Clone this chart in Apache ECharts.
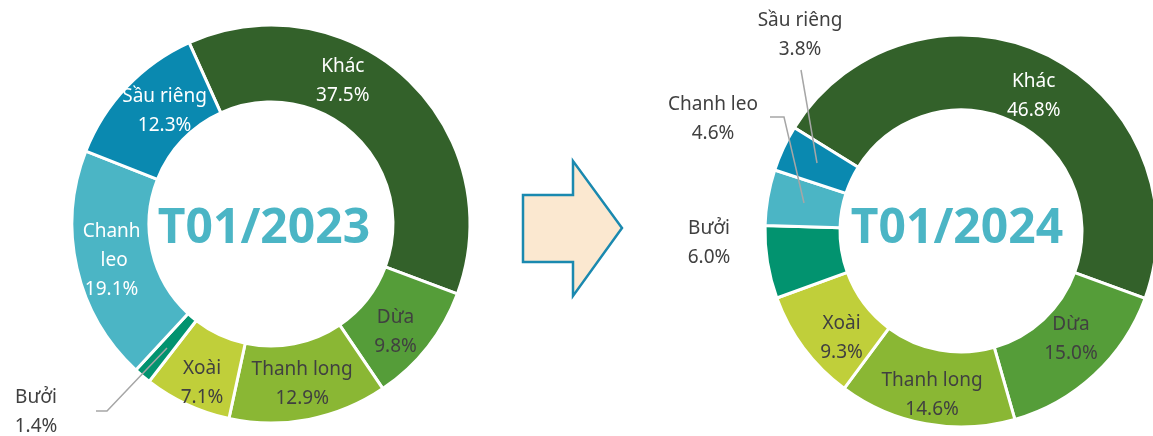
<!DOCTYPE html>
<html>
<head>
<meta charset="utf-8">
<script src="https://cdn.jsdelivr.net/npm/echarts@6/dist/echarts.min.js"></script>
<style>
  html, body { margin: 0; background: #fff; }
  #chart { width: 1153px; height: 436px; }
</style>
</head>
<body>
<div id="chart"></div>
<script>
'use strict';

// data
const categories = ['Khác', 'Dừa', 'Thanh long', 'Xoài', 'Bưởi', 'Chanh leo', 'Sầu riêng'];
const share2023 = [37.5, 9.8, 12.9, 7.1, 1.4, 19.1, 12.3];
const share2024 = [46.8, 15.0, 14.6, 9.3, 6.0, 4.6, 3.8];
const periods = ['T01/2023', 'T01/2024'];

const colors = ['#33612A', '#559D39', '#8AB734', '#C0CF3A', '#02936F', '#4BB5C5', '#0A89B0'];
const whiteText = ['Khác', 'Chanh leo', 'Sầu riêng'];
const font = '"Noto Sans", "DejaVu Sans", sans-serif';

// labels that sit outside the ring (per series)
const outside = [['Bưởi'], ['Bưởi', 'Chanh leo', 'Sầu riêng']];
const labelSpots = {
    '0-Bưởi': { x: 36, y: 412 },
    '1-Sầu riêng': { x: 800, y: 35 },
    '1-Chanh leo': { x: 713, y: 119 },
    '1-Bưởi': { x: 709, y: 243 }
};
// leader lines, drawn like the excel callouts
const leaderLines = [
    [[96, 411], [107, 411], [167, 348]],
    [[801, 70], [817, 163]],
    [[770, 117], [784, 117], [804, 203]]
];
// small shifts of the inside labels
const labelNudges = {
    '0-Khác': { dx: -40, dy: -24 },
    '0-Sầu riêng': { dx: 12, dy: 0 },
    '0-Dừa': { dx: -4, dy: 7 },
    '0-Xoài': { dx: 0, dy: 11 },
    '1-Khác': { dx: 2, dy: 10 },
    '1-Dừa': { dx: 0, dy: -10 },
    '1-Thanh long': { dx: 0, dy: 5 },
    '1-Xoài': { dx: 10, dy: 11 }
};

function buildData(values, idx) {
    return categories.map(function (name, i) {
        const isOut = outside[idx].indexOf(name) >= 0;
        const item = {
            name: name,
            value: values[i],
            itemStyle: { color: colors[i] },
            label: {
                position: isOut ? 'outside' : 'inside',
                color: (!isOut && whiteText.indexOf(name) >= 0) ? '#ffffff' : '#404040'
            }
        };
        if (idx === 0 && name === 'Chanh leo') {
            item.label.width = 62;
            item.label.overflow = 'break';
        }
        return item;
    });
}

function makeSeries(values, idx, center, radius, startAngle) {
    return {
        type: 'pie',
        center: center,
        radius: radius,
        startAngle: startAngle,
        clockwise: true,
        avoidLabelOverlap: false,
        itemStyle: { borderColor: '#ffffff', borderWidth: 3 },
        label: {
            show: true,
            fontFamily: font,
            fontSize: 19,
            lineHeight: 29,
            align: 'center',
            formatter: function (p) {
                return p.name + '\n' + p.value.toFixed(1) + '%';
            }
        },
        labelLine: { show: false },
        labelLayout: function (params) {
            const key = idx + '-' + categories[params.dataIndex];
            const spot = labelSpots[key];
            if (spot) {
                return { x: spot.x, y: spot.y, align: 'center', verticalAlign: 'middle' };
            }
            return labelNudges[key] || {};
        },
        emphasis: { disabled: true },
        data: buildData(values, idx)
    };
}

const chart = echarts.init(document.getElementById('chart'));

const graphics = [
    {
        type: 'text',
        x: 264, y: 229,
        style: {
            text: periods[0], fill: '#4BB5C5',
            font: 'bold 48px ' + font,
            align: 'center', verticalAlign: 'middle',
            textAlign: 'center', textVerticalAlign: 'middle'
        }
    },
    {
        type: 'text',
        x: 957, y: 229,
        style: {
            text: periods[1], fill: '#4BB5C5',
            font: 'bold 48px ' + font,
            align: 'center', verticalAlign: 'middle',
            textAlign: 'center', textVerticalAlign: 'middle'
        }
    },
    {
        type: 'polygon',
        shape: {
            points: [[523, 195], [573, 195], [573, 161], [622, 228], [573, 296], [573, 262], [523, 262]]
        },
        style: { fill: '#FBE8D0', stroke: '#1A89AF', lineWidth: 2.5 }
    }
];
leaderLines.forEach(function (pts) {
    graphics.push({
        type: 'polyline',
        z: 10,
        shape: { points: pts },
        style: { fill: null, stroke: '#A6A6A6', lineWidth: 1.5 }
    });
});

const option = {
    animation: false,
    series: [
        makeSeries(share2023, 0, [271, 224], [122, 199], 114.3),
        makeSeries(share2024, 1, [961, 231], [121, 196], 148.2)
    ],
    graphic: graphics
};

chart.setOption(option);
</script>
</body>
</html>
